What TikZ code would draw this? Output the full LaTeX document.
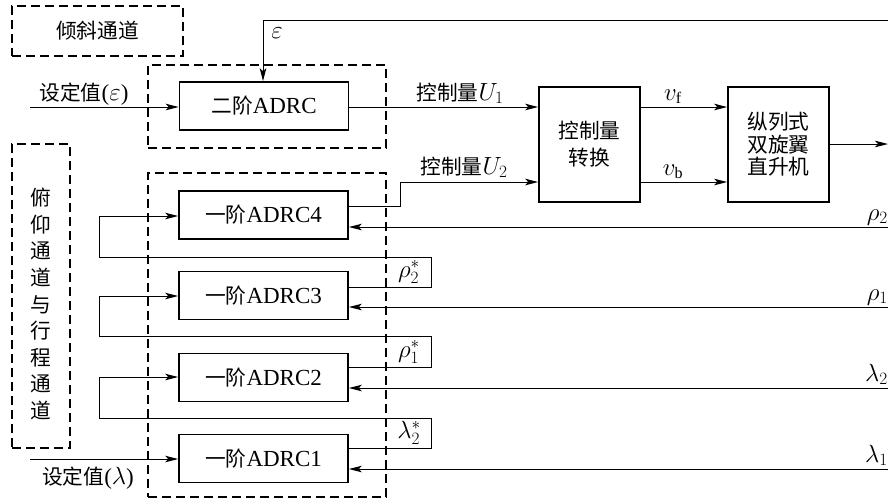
\documentclass[tikz,border=0pt]{standalone}
\usepackage{fontspec}
\setmainfont{Liberation Serif}
\newfontfamily\cjk{Noto Sans CJK SC}[Scale=0.9]
\usetikzlibrary{arrows.meta}
\begin{document}
\begin{tikzpicture}[x=1pt,y=-1pt,
  every node/.style={font=\fontsize{23}{26}\selectfont, inner sep=0pt},
  blk/.style={draw, line width=1.6pt, minimum width=169pt, minimum height=48pt},
  grp/.style={draw, line width=1.8pt, dash pattern=on 9pt off 5pt},
  conn/.style={line width=1pt},
  arr/.style={conn, -{Stealth[length=13pt,width=6.5pt,inset=3pt]}}]
\useasboundingbox (0,0) rectangle (888,499);

% group boxes
\node[grp, minimum width=171pt, minimum height=50pt] (tilt) at (97.5,31) {\cjk 倾斜通道};
\node[grp, minimum width=58pt, minimum height=304pt] (pitch) at (41,296) {};
\node[font=\fontsize{23}{26.6}\selectfont\cjk, align=center] (pitchtxt) at (41,304)
  {俯\\仰\\通\\道\\与\\行\\程\\通\\道};
\node[grp, minimum width=238pt, minimum height=83pt] (gU) at (267,106.5) {};
\node[grp, minimum width=238pt, minimum height=324pt] (gL) at (267,335) {};

% blocks
\node[blk] (A2) at (264,106) {{\cjk 二阶}ADRC};
\node[blk] (C4) at (263.5,215) {{\cjk 一阶}ADRC4};
\node[blk] (C3) at (263.5,295.5) {{\cjk 一阶}ADRC3};
\node[blk] (C2) at (263.5,377.5) {{\cjk 一阶}ADRC2};
\node[blk] (C1) at (263.5,458.5) {{\cjk 一阶}ADRC1};
\node[blk, minimum width=101pt, minimum height=115pt, align=center,
      font=\fontsize{23}{27}\selectfont\cjk] (conv) at (589.5,144.5) {控制量\\转换};
\node[blk, minimum width=101pt, minimum height=115pt, align=center,
      font=\fontsize{23}{22.5}\selectfont\cjk] (heli) at (778.5,144.5) {纵列式\\双旋翼\\直升机};

% free ends
\coordinate (inE) at (30,107);
\coordinate (inL) at (30,459);
\coordinate (epsR) at (888,20);
\coordinate (outR) at (888,144);
\coordinate (r2) at (888,227);
\coordinate (r1) at (888,307);
\coordinate (l2) at (888,388);
\coordinate (l1) at (888,469);

% connectors
\draw[arr] (inE) -- (inE -| A2.west);
\draw[arr] (epsR) -- (263,20) -- (A2.north -| 263,0);
\draw[arr] (A2.east |- 0,107) -- (conv.west |- 0,107);
\draw[arr] (C4.east |- 0,206) -- (400,206) -- (400,182) -- (conv.west |- 0,182);
\draw[arr] (conv.east |- 0,107) -- (heli.west |- 0,107);
\draw[arr] (conv.east |- 0,182) -- (heli.west |- 0,182);
\draw[arr] (heli.east |- outR) -- (outR);

\draw[arr] (r2) -- (r2 -| C4.east);
\draw[arr] (r1) -- (r1 -| C3.east);
\draw[arr] (l2) -- (l2 -| C2.east);
\draw[arr] (l1) -- (l1 -| C1.east);

\draw[arr] (C3.east |- 0,287) -- (431,287) -- (431,257) -- (99,257) -- (99,216) -- (C4.west |- 0,216);
\draw[arr] (C2.east |- 0,367) -- (431,367) -- (431,336) -- (99,336) -- (99,296) -- (C3.west |- 0,296);
\draw[arr] (C1.east |- 0,448) -- (431,448) -- (431,418) -- (99,418) -- (99,377) -- (C2.west |- 0,377);
\draw[arr] (inL) -- (inL -| C1.west);

% labels
\node[anchor=base] (tE) at (84,100) {{\cjk 设定值}($\varepsilon$)};
\node[anchor=base] (tL) at (88,484) {{\cjk 设定值}($\lambda$)};
\node[anchor=base] (tEps) at (277,38) {$\varepsilon$};
\node[anchor=base] (tU1) at (460,100) {{\cjk 控制量}$U_1$};
\node[anchor=base] (tU2) at (464,174) {{\cjk 控制量}$U_2$};
\node[anchor=base] (tvf) at (673,100) {$v_{\mathrm{f}}$};
\node[anchor=base] (tvb) at (673,175) {$v_{\mathrm{b}}$};
\node (ts2) at (409,272) {$\rho_2^*$};
\node (ts1) at (409,352) {$\rho_1^*$};
\node (tsl) at (409,433) {$\lambda_2^*$};
\node[anchor=base east] (tr2) at (888,220) {$\rho_2$};
\node[anchor=base east] (tr1) at (888,300) {$\rho_1$};
\node[anchor=base east] (tl2) at (888,381) {$\lambda_2$};
\node[anchor=base east] (tl1) at (888,462) {$\lambda_1$};
\end{tikzpicture}
\end{document}
